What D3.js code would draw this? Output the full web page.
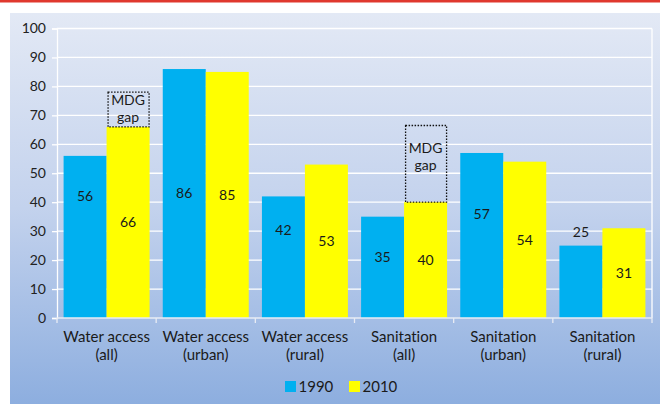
<!DOCTYPE html>
<html>
<head>
<meta charset="utf-8">
<script src="https://cdn.jsdelivr.net/npm/d3@7"></script>
<style>
  html, body { margin: 0; padding: 0; background: #fff; }
  svg { display: block; font-family: Lato, "Open Sans", sans-serif; font-variant-ligatures: none; }
</style>
</head>
<body>
<svg id="chart" width="660" height="404"></svg>
<script>
// categories and series
var categories = [["Water access", "(all)"], ["Water access", "(urban)"], ["Water access", "(rural)"],
                  ["Sanitation", "(all)"], ["Sanitation", "(urban)"], ["Sanitation", "(rural)"]];
var years = ["1990", "2010"];
var values1990 = [56, 86, 42, 35, 57, 25];
var values2010 = [66, 85, 53, 40, 54, 31];
// where the 1990 labels sit (in % units)
var label1990At = [42.2, 43.1, 30.4, 21.2, 35.8, 29.8];
// MDG gap boxes: category index, from 2010 value up to target; labelAt = middle of the two text lines
var mdgGaps = [{cat: 0, target: 78, labelAt: 72.2}, {cat: 3, target: 66.5, labelAt: 55.7}];
var yTicks = [0, 10, 20, 30, 40, 50, 60, 70, 80, 90, 100];

var colors = {"1990": "#00b0f0", "2010": "#ffff00"};

var svg = d3.select("#chart");
var W = 660, H = 404;

// background panel with gradient
var defs = svg.append("defs");
var grad = defs.append("linearGradient").attr("id", "bg").attr("x1", 0).attr("y1", 0).attr("x2", 0).attr("y2", 1);
grad.append("stop").attr("offset", "0%").attr("stop-color", "#e3e9f5");
grad.append("stop").attr("offset", "50%").attr("stop-color", "#c3d2ed");
grad.append("stop").attr("offset", "100%").attr("stop-color", "#8daedf");

svg.append("rect").attr("x", 0).attr("y", 0).attr("width", W).attr("height", 2.5).attr("fill", "#e0382e");
svg.append("rect").attr("x", 10).attr("y", 13).attr("width", W - 10).attr("height", H - 13).attr("fill", "url(#bg)");

var pLeft = 57, pRight = 652, pTop = 28.5, pBottom = 318;

var x0 = d3.scaleBand().domain(d3.range(categories.length)).range([pLeft, pRight])
    .paddingInner(0.133).paddingOuter(0.0665);
var x1 = d3.scaleBand().domain(years).range([0, x0.bandwidth()]);
var y = d3.scaleLinear().domain([0, 100]).range([pBottom, pTop]);

// gridlines
svg.append("g").selectAll("line").data(yTicks.slice(1)).enter().append("line")
    .attr("x1", pLeft).attr("x2", pRight)
    .attr("y1", d => y(d)).attr("y2", d => y(d))
    .attr("stroke", "#ffffff").attr("stroke-width", 1.3);
// right border of plot area
svg.append("line").attr("x1", pRight).attr("x2", pRight).attr("y1", pTop).attr("y2", pBottom)
    .attr("stroke", "#ffffff").attr("stroke-width", 1.3);

// y axis
var yAxis = svg.append("g").attr("transform", "translate(" + pLeft + ",0)")
    .call(d3.axisLeft(y).tickValues(yTicks).tickSize(5).tickPadding(6));
yAxis.select(".domain").attr("stroke", "#ffffff").attr("stroke-width", 1.3);
yAxis.selectAll(".tick line").attr("stroke", "#ffffff").attr("stroke-width", 1.3);
yAxis.selectAll(".tick text").attr("font-size", 14).attr("fill", "#222")
    .attr("font-family", "Lato, sans-serif");

// bars
var groups = svg.append("g").selectAll("g").data(categories.map((c, i) => i)).enter().append("g")
    .attr("transform", i => "translate(" + x0(i) + ",0)");

function barData(i) {
    return [
        {year: "1990", v: values1990[i], lab: label1990At[i]},
        {year: "2010", v: values2010[i], lab: values2010[i] / 2}
    ];
}

groups.selectAll("rect").data(barData).enter().append("rect")
    .attr("x", d => x1(d.year))
    .attr("width", x1.bandwidth())
    .attr("y", d => y(d.v))
    .attr("height", d => y(0) - y(d.v))
    .attr("fill", d => colors[d.year]);

groups.selectAll("text.val").data(barData).enter().append("text").attr("class", "val")
    .attr("x", d => x1(d.year) + x1.bandwidth() / 2)
    .attr("y", d => y(d.lab))
    .attr("dy", "0.35em")
    .attr("text-anchor", "middle")
    .attr("font-size", 14).attr("fill", "#1a1a1a")
    .text(d => d.v);

// x axis line and category ticks
svg.append("line").attr("x1", pLeft).attr("x2", pRight).attr("y1", pBottom).attr("y2", pBottom)
    .attr("stroke", "#e8ecf4").attr("stroke-width", 1.3);
var bounds = d3.range(categories.length + 1).map(i => pLeft + i * x0.step());
svg.append("g").selectAll("line").data(bounds).enter().append("line")
    .attr("x1", d => d).attr("x2", d => d)
    .attr("y1", pBottom).attr("y2", pBottom + 5)
    .attr("stroke", "#e8ecf4").attr("stroke-width", 1.3);

// category labels
var catLabels = svg.append("g").selectAll("text").data(categories).enter().append("text")
    .attr("text-anchor", "middle")
    .attr("font-size", 15).attr("fill", "#1a1a1a");
catLabels.append("tspan").attr("x", (d, i) => x0(i) + x0.bandwidth() / 2).attr("y", 342).text(d => d[0]);
catLabels.append("tspan").attr("x", (d, i) => x0(i) + x0.bandwidth() / 2).attr("y", 360).text(d => d[1]);

// MDG gap boxes
var gapG = svg.append("g").selectAll("g").data(mdgGaps).enter().append("g");
gapG.append("rect")
    .attr("x", d => x0(d.cat) + x1("2010") + 1.5)
    .attr("width", x1.bandwidth() - 2)
    .attr("y", d => y(d.target))
    .attr("height", d => y(values2010[d.cat]) - y(d.target))
    .attr("fill", "none").attr("stroke", "#111").attr("stroke-width", 1.3)
    .attr("stroke-dasharray", "1.5,1.5");
gapG.append("text")
    .attr("x", d => x0(d.cat) + x1("2010") + x1.bandwidth() / 2)
    .attr("y", d => y(d.labelAt) - 8.5)
    .attr("dy", "0.35em").attr("text-anchor", "middle")
    .attr("font-size", 14).attr("fill", "#1a1a1a").text("MDG");
gapG.append("text")
    .attr("x", d => x0(d.cat) + x1("2010") + x1.bandwidth() / 2)
    .attr("y", d => y(d.labelAt) + 8.5)
    .attr("dy", "0.35em").attr("text-anchor", "middle")
    .attr("font-size", 14).attr("fill", "#1a1a1a").text("gap");

// legend
var legend = svg.append("g").selectAll("g").data(years).enter().append("g")
    .attr("transform", (d, i) => "translate(" + (285 + i * 64) + ",381)");
legend.append("rect").attr("width", 11).attr("height", 11).attr("fill", d => colors[d]);
legend.append("text").attr("x", 13.5).attr("y", 5.5).attr("dy", "0.35em")
    .attr("font-size", 15).attr("fill", "#1a1a1a").text(d => d);
</script>
</body>
</html>
